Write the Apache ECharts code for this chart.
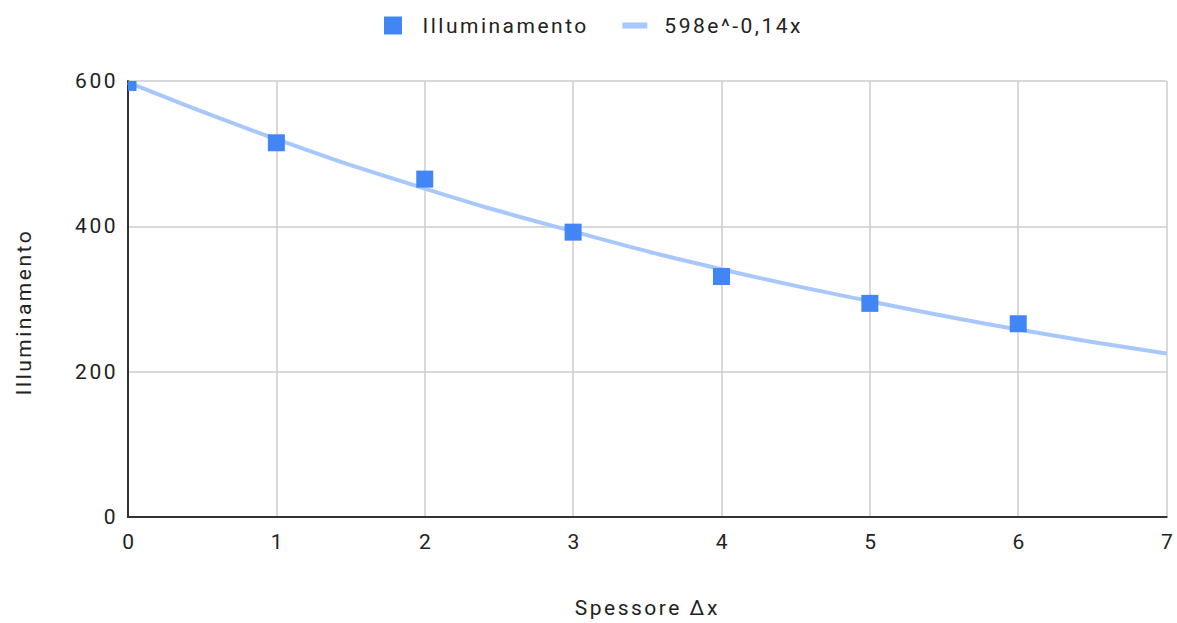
<!DOCTYPE html>
<html>
<head>
<meta charset="utf-8">
<script src="https://cdn.jsdelivr.net/npm/echarts@6/dist/echarts.min.js"></script>
<style>
  html, body { margin: 0; padding: 0; background: #fff; }
  #chart { width: 1177px; height: 623px; }
  /* the reference text is set loosely */
  #chart svg text { letter-spacing: 2.5px; }
</style>
</head>
<body>
<div id="chart"></div>
<script>
// measured points
const spessore = [0, 1, 2, 3, 4, 5, 6]
const illuminamento = [598, 515, 465, 392, 331, 294, 266]

// trendline at integer x
const trendX = [0, 1, 2, 3, 4, 5, 6, 7]
const trendY = [598, 520, 452, 393, 341, 297, 258, 225]

const xTicks = [0, 1, 2, 3, 4, 5, 6, 7]
const yTicks = [0, 200, 400, 600]

const font = 'Roboto, "Noto Sans", Arial, sans-serif'
const blue = '#4285f4'
const lightBlue = '#a8c7fa'

const chart = echarts.init(document.getElementById('chart'), null, { renderer: 'svg' })

chart.setOption({
  animation: false,
  textStyle: { fontFamily: font },
  legend: {
    top: 10,
    left: 379,
    itemGap: 66,
    itemWidth: 25,
    itemHeight: 18,
    textStyle: { fontSize: 21, color: '#222', fontFamily: font, padding: [0, 0, 0, 12] },
    data: [
      { name: 'Illuminamento', icon: 'path://M0,0 L18,0 L18,18 L0,18 Z', itemStyle: { color: blue } },
      { name: '598e^-0,14x', icon: 'path://M0,0 L25,0 L25,6 L0,6 Z', itemStyle: { color: lightBlue } },
    ],
  },
  grid: { left: 128, right: 10, top: 81, bottom: 105 },
  xAxis: {
    type: 'value',
    min: xTicks[0],
    max: xTicks[xTicks.length - 1],
    interval: 1,
    name: 'Spessore Δx',
    nameLocation: 'middle',
    nameGap: 80,
    nameTextStyle: { fontSize: 21, color: '#222', fontFamily: font, verticalAlign: 'top' },
    axisLine: { show: true, lineStyle: { color: '#333', width: 2 } },
    axisTick: { show: false },
    axisLabel: { fontSize: 21, color: '#222', margin: 14, fontFamily: font, padding: [0, 0, 0, 3] },
    splitLine: { show: true, lineStyle: { color: '#ccc', width: 1.5 } },
  },
  yAxis: {
    type: 'value',
    min: yTicks[0],
    max: yTicks[yTicks.length - 1],
    interval: 200,
    name: 'Illuminamento',
    nameLocation: 'middle',
    nameGap: 94,
    nameTextStyle: { fontSize: 21, color: '#222', fontFamily: font, padding: [0, 26, 0, 0] },
    axisLine: { show: true, lineStyle: { color: '#333', width: 2 } },
    axisTick: { show: false },
    axisLabel: { fontSize: 21, color: '#222', margin: 10, fontFamily: font },
    splitLine: { show: true, lineStyle: { color: '#ccc', width: 1.5 } },
  },
  series: [
    {
      name: '598e^-0,14x',
      type: 'line',
      data: trendX.map((x, i) => [x, trendY[i]]),
      smooth: true,
      symbol: 'none',
      lineStyle: { color: lightBlue, width: 4 },
      itemStyle: { color: lightBlue },
      z: 2,
    },
    {
      // squares drawn as a custom series so the one at the corner is clipped by the grid
      name: 'Illuminamento',
      type: 'custom',
      data: spessore.map((x, i) => [x, illuminamento[i]]),
      encode: { x: 0, y: 1 },
      clip: true,
      itemStyle: { color: blue },
      renderItem: (params, api) => {
        const p = api.coord([api.value(0), api.value(1)])
        const s = 17
        return {
          type: 'rect',
          shape: { x: p[0] - s / 2, y: p[1] - s / 2, width: s, height: s },
          style: { fill: blue },
        }
      },
      z: 3,
    },
  ],
})
</script>
</body>
</html>
